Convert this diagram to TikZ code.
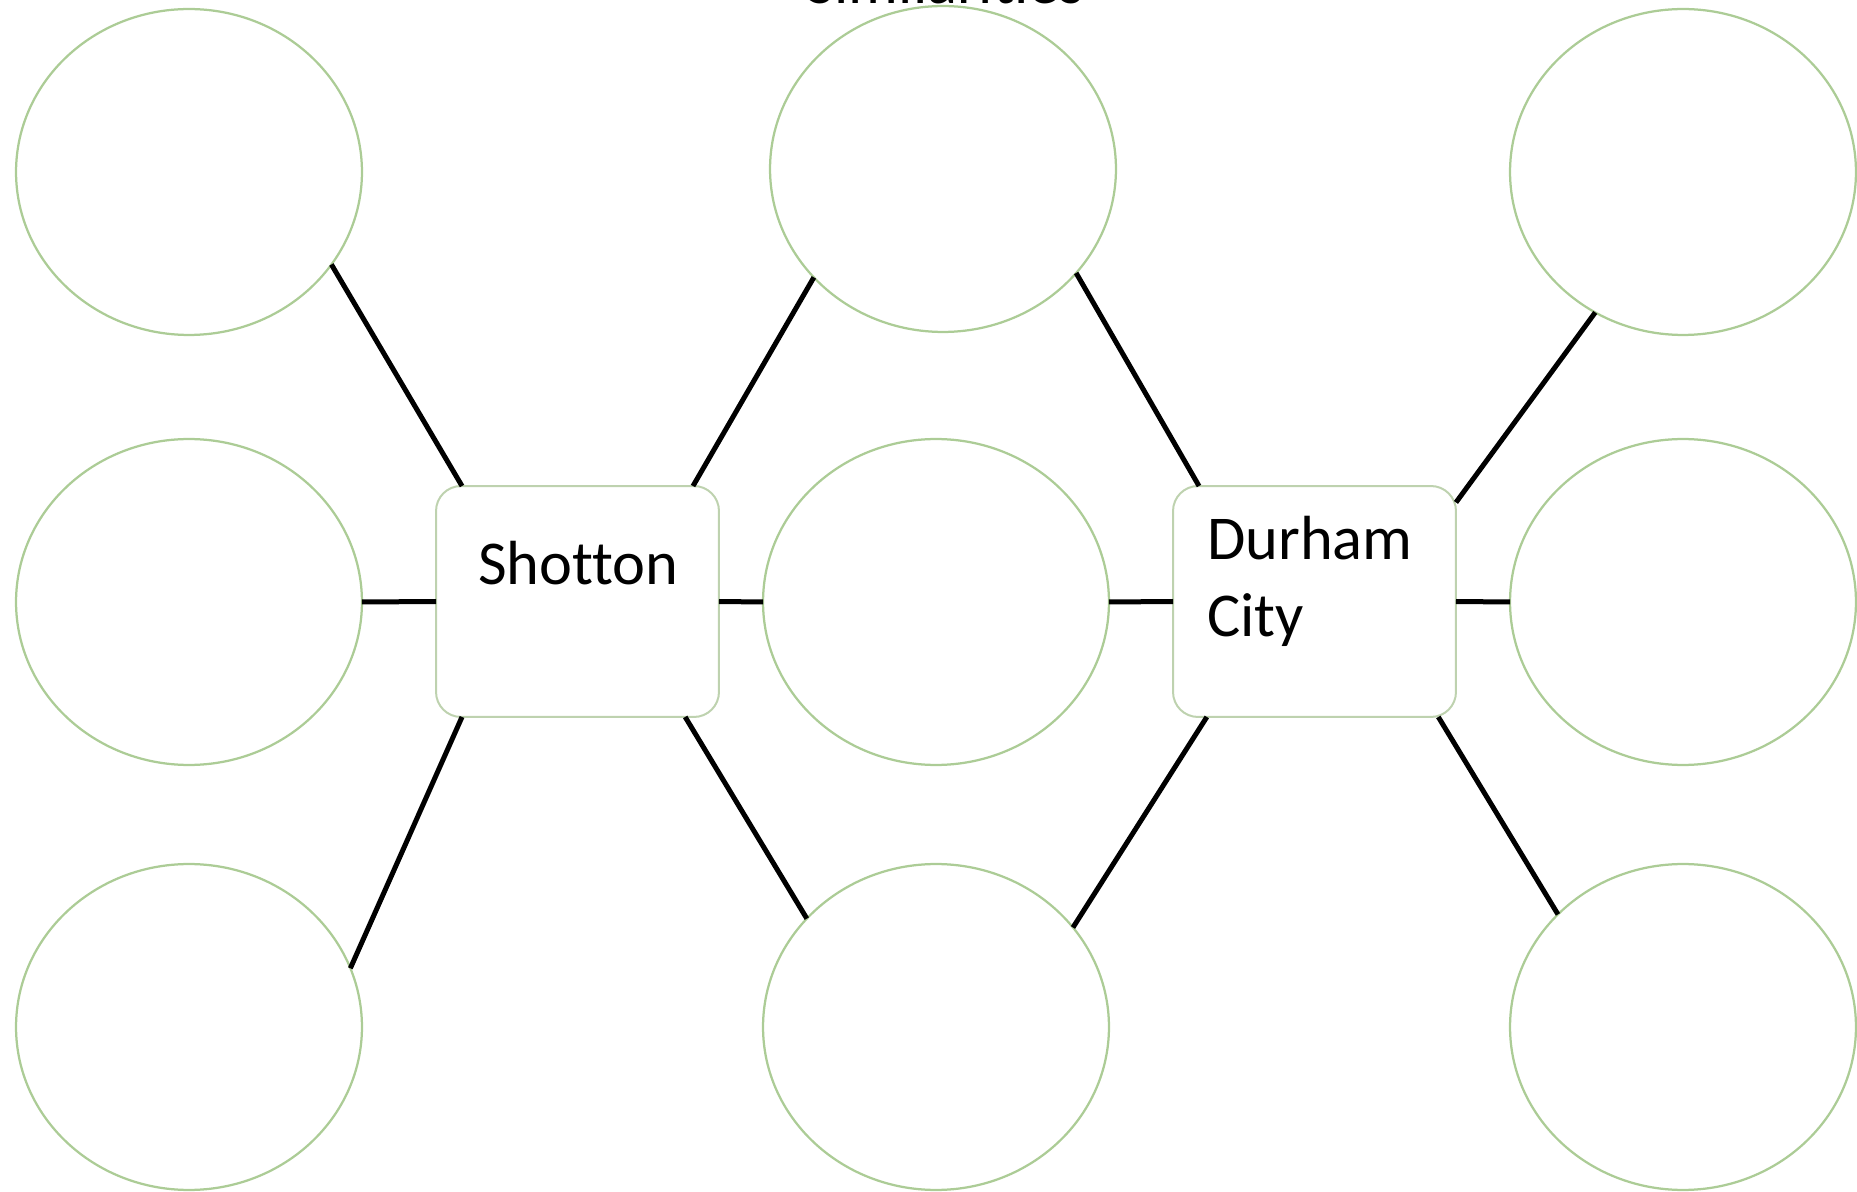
\documentclass[tikz,border=0pt]{standalone}
\usepackage{fontspec}
\setmainfont{Carlito}[Ligatures=NoCommon]
\usetikzlibrary{shapes.geometric}
\definecolor{ringgreen}{RGB}{172,204,150}
\definecolor{boxgreen}{RGB}{190,210,175}
\begin{document}
\begin{tikzpicture}[x=0.02cm,y=-0.02cm,
  bubble/.style={ellipse,draw=ringgreen,line width=0.045cm,minimum width=6.92cm,minimum height=6.52cm,inner sep=0pt,outer sep=0pt},
  townbox/.style={rectangle,rounded corners=0.5cm,draw=boxgreen,line width=0.04cm,minimum width=5.66cm,minimum height=4.62cm,inner sep=0pt,outer sep=0pt},
  lbl/.style={font=\fontsize{35.5}{43.8}\selectfont,inner sep=0pt,anchor=base west},
  link/.style={line width=0.1cm,black}]
\useasboundingbox (0,0) rectangle (1857,1192);
\clip (0,0) rectangle (1857,1192);
\node[font=\fontsize{35.5}{43.8}\selectfont,inner sep=0pt,anchor=base] (title) at (945,4) {Similarities};
% circles
\node[bubble] (tl) at (189,172) {};
\node[bubble] (ml) at (189,602) {};
\node[bubble] (bl) at (189,1027) {};
\node[bubble] (tm) at (943,169) {};
\node[bubble] (mm) at (936,602) {};
\node[bubble] (bm) at (936,1027) {};
\node[bubble] (tr) at (1683,172) {};
\node[bubble] (mr) at (1683,602) {};
\node[bubble] (br) at (1683,1027) {};
% boxes
\node[townbox] (sh) at (577.5,601.5) {};
\node[townbox] (du) at (1314.5,601.5) {};
\node[lbl] (shtext) at (478,585) {Shotton};
\node[lbl] (dutext1) at (1207,560) {Durham};
\node[lbl] (dutext2) at (1207,637) {City};
% connectors
\draw[link] (tl.-33.3) -- (sh.135.3);
\draw[link] (sh.45.5) -- (tm.220.2);
\draw[link] (tm.-38.8) -- (du.135);
\draw[link] (du.35.9) -- (tr.238.4);
\draw[link] (ml.east) -- (sh.west);
\draw[link] (sh.east) -- (mm.west);
\draw[link] (mm.east) -- (du.west);
\draw[link] (du.east) -- (mr.west);
\draw[link] (sh.225) -- (bl.20.4);
\draw[link] (sh.-47.5) -- (bm.140.5);
\draw[link] (du.227) -- (bm.36);
\draw[link] (du.-43.4) -- (br.138.6);
\end{tikzpicture}
\end{document}
